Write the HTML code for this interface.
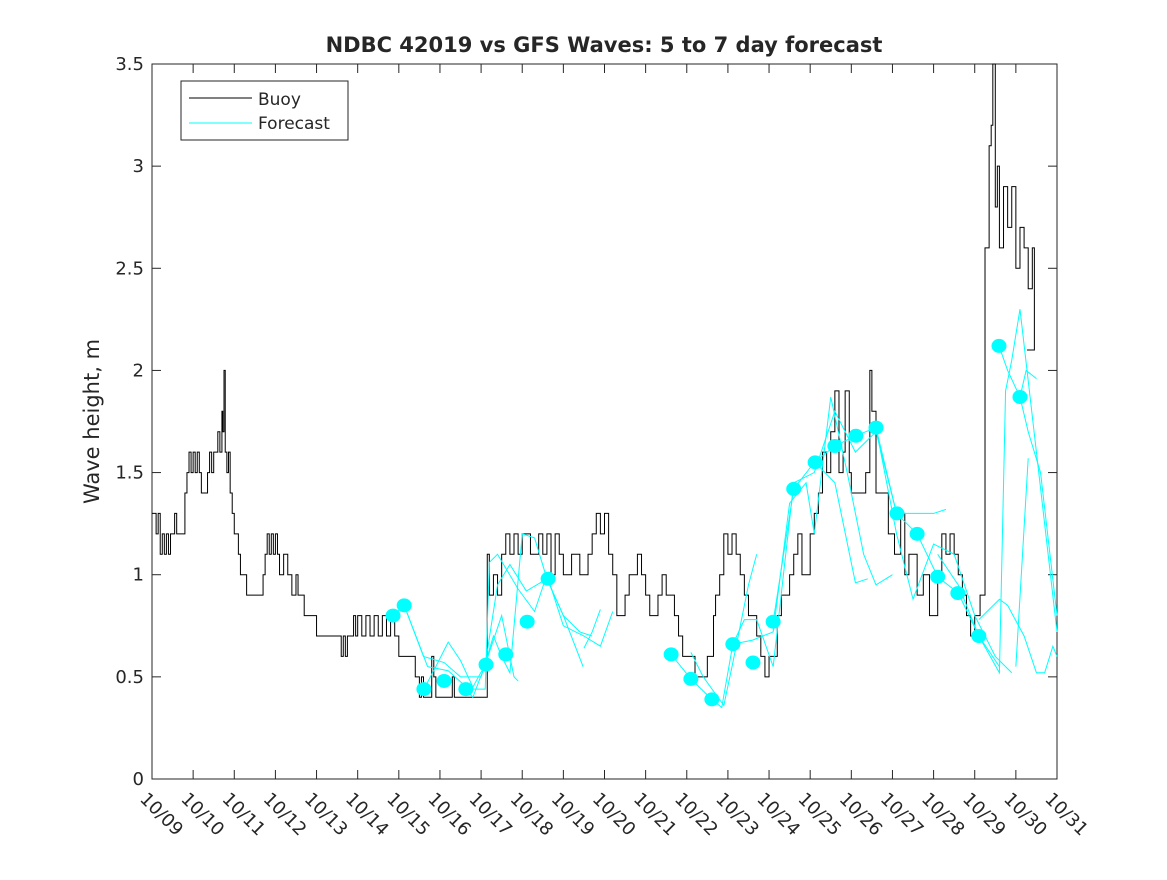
<!DOCTYPE html>
<html><head><meta charset="utf-8"><style>
body{margin:0;background:#fff}
svg text{font-family:"DejaVu Sans","Liberation Sans",sans-serif;fill:#262626}
</style></head><body>
<svg id="chart" width="1167" height="875" xmlns="http://www.w3.org/2000/svg">
<rect width="1167" height="875" fill="#fff"/>
<g id="plot"></g>
</svg>
<script>
const xTickLabels=["10/09","10/10","10/11","10/12","10/13","10/14","10/15","10/16","10/17","10/18","10/19","10/20","10/21","10/22","10/23","10/24","10/25","10/26","10/27","10/28","10/29","10/30","10/31"];
const yTicks=[0,0.5,1,1.5,2,2.5,3,3.5];
const yTickLabels=["0","0.5","1","1.5","2","2.5","3","3.5"];
const buoyDays=[0,0.1,0.15,0.2,0.25,0.3,0.35,0.4,0.45,0.5,0.55,0.6,0.65,0.8,0.85,0.9,0.95,1.0,1.05,1.1,1.15,1.2,1.35,1.4,1.45,1.5,1.55,1.6,1.65,1.7,1.72,1.75,1.78,1.82,1.86,1.9,1.95,2.0,2.1,2.15,2.2,2.3,2.7,2.75,2.8,2.85,2.9,2.95,3.0,3.05,3.1,3.2,3.3,3.4,3.5,3.55,3.6,3.7,3.8,4.0,4.1,4.6,4.65,4.7,4.75,4.8,4.9,4.95,5.0,5.1,5.2,5.3,5.4,5.5,5.6,5.7,5.8,5.9,6.0,6.3,6.4,6.5,6.55,6.6,6.8,6.85,6.9,7.0,7.3,7.35,7.4,8.1,8.15,8.2,8.3,8.4,8.5,8.6,8.7,8.8,8.9,9.0,9.2,9.4,9.5,9.6,9.7,9.8,9.9,10.0,10.2,10.4,10.6,10.7,10.8,10.9,11.0,11.1,11.2,11.3,11.5,11.6,11.8,11.9,12.0,12.1,12.3,12.4,12.5,12.7,12.8,12.9,13.2,13.5,13.65,13.7,13.8,13.9,14.0,14.1,14.2,14.3,14.4,14.5,14.7,14.8,14.9,15.0,15.2,15.3,15.5,15.6,15.7,15.8,16.0,16.1,16.2,16.3,16.4,16.5,16.6,16.7,16.8,16.85,16.95,17.0,17.35,17.45,17.5,17.6,17.9,18.05,18.2,18.3,18.4,18.6,18.75,18.9,19.1,19.2,19.3,19.4,19.5,19.6,19.7,19.8,19.9,20.0,20.13,20.25,20.35,20.4,20.44,20.5,20.55,20.6,20.7,20.8,20.9,21.0,21.1,21.2,21.3,21.4,21.45,21.27];
const buoyVals=[1.3,1.2,1.3,1.1,1.2,1.1,1.2,1.1,1.2,1.2,1.3,1.2,1.2,1.4,1.5,1.6,1.5,1.6,1.5,1.6,1.5,1.4,1.5,1.6,1.5,1.6,1.6,1.7,1.6,1.8,1.7,2.0,1.6,1.5,1.6,1.4,1.3,1.2,1.1,1.0,1.0,0.9,1.0,1.1,1.2,1.1,1.2,1.1,1.2,1.1,1.0,1.1,1.0,0.9,1.0,0.9,0.9,0.8,0.8,0.7,0.7,0.6,0.7,0.6,0.7,0.7,0.8,0.7,0.8,0.7,0.8,0.7,0.8,0.7,0.8,0.7,0.8,0.7,0.6,0.6,0.5,0.4,0.5,0.4,0.6,0.5,0.4,0.4,0.5,0.4,0.4,0.4,1.1,0.9,1.0,0.9,1.1,1.2,1.1,1.2,1.1,1.2,1.1,1.2,1.1,1.2,1.0,1.2,1.1,1.0,1.1,1.0,1.1,1.2,1.3,1.2,1.3,1.1,1.0,0.8,0.9,1.0,1.1,1.0,0.9,0.8,0.9,1.0,0.9,0.8,0.7,0.6,0.5,0.6,0.8,0.9,1.0,1.2,1.1,1.2,1.1,1.0,0.9,0.8,0.7,0.6,0.5,0.6,0.8,0.9,1.0,1.1,1.2,1.0,1.2,1.3,1.4,1.6,1.5,1.7,1.9,1.5,1.6,1.9,1.5,1.4,1.5,2.0,1.8,1.4,1.2,1.1,1.3,1.0,1.1,0.9,1.0,0.8,1.0,1.2,1.1,1.2,1.1,1.0,0.9,0.8,0.7,0.8,0.9,2.6,3.1,3.2,3.5,2.8,3.0,2.6,2.9,2.7,2.9,2.5,2.7,2.6,2.4,2.6,2.1,2.1];
const fcLines=[
 [[5.86,.80],[6.13,.85],[6.7,.55],[7.2,.53],[7.7,.44],[8.1,.44],[8.2,1.06],[8.4,1.1],[8.9,.93],[9.3,.82],[9.6,1.0],[10.0,.75],[10.5,.70],[10.9,.65],[11.2,.82]],
 [[6.13,.85],[6.6,.6],[7.1,.57],[7.5,.5],[8.0,.5],[8.3,.7],[8.5,.6],[8.7,.52],[9.0,1.2],[9.3,1.18],[9.6,.98],[10.0,.8],[10.4,.72],[10.7,.70]],
 [[6.61,.44],[6.9,.55],[7.2,.67],[7.5,.58],[7.8,.45],[8.1,.56],[8.5,.8],[8.8,.5],[8.9,.48]],
 [[7.63,.44],[7.8,.40],[8.1,.56],[8.4,.95],[8.7,1.05],[9.1,.92],[9.6,.98],[10.0,.8],[10.48,.55]],
 [[10.5,.64],[10.7,.72],[10.9,.83]],
 [[12.62,.61],[13.1,.49],[13.61,.39],[13.85,.35],[14.12,.66],[14.4,.78],[14.7,.78],[15.1,.55],[15.6,1.45],[16.1,1.5],[16.6,1.8],[17.1,1.6],[17.6,1.7],[18.1,1.3],[18.6,1.3],[19.0,1.3],[19.3,1.32]],
 [[13.1,.62],[13.4,.5],[13.9,.36],[14.1,.55],[14.5,.95],[14.7,1.1]],
 [[14.12,.66],[14.6,.68],[15.1,.72],[15.5,1.35],[15.9,1.45],[16.1,1.2],[16.5,1.87],[16.9,1.5],[17.3,1.1],[17.6,.95],[18.0,1.0]],
 [[15.1,.77],[15.6,1.42],[16.1,1.55],[16.6,1.63],[17.1,1.68],[17.6,1.72],[18.1,1.3],[18.6,1.2],[19.1,.99],[19.6,.91],[20.1,.7],[20.6,.55]],
 [[16.12,1.55],[16.6,1.45],[17.1,.96],[17.4,.98]],
 [[17.6,1.72],[18.1,1.2],[18.5,.88],[19.0,1.15],[19.5,1.1],[20.0,.8],[20.5,.6],[20.9,.52]],
 [[19.1,1.1],[19.6,.95],[20.1,.7],[20.6,.52],[20.75,1.9],[20.9,2.05],[21.1,2.3],[21.5,1.6],[22.0,.72]],
 [[20.59,2.12],[20.8,2.0],[21.1,1.87],[21.3,1.7],[21.6,1.5],[22.0,.8]],
 [[20.1,.78],[20.6,.88],[20.8,.85],[21.2,.7],[21.5,.52],[21.7,.52],[21.9,.65],[22.0,.6]],
 [[21.1,1.87],[21.25,2.0],[21.5,1.96]],
 [[21.0,.55],[21.3,1.57]]
];
const dotDays=[5.86,6.13,6.61,7.1,7.63,8.12,8.6,9.12,9.63,12.62,13.1,13.61,14.12,14.61,15.1,15.6,16.12,16.6,17.11,17.6,18.11,18.6,19.1,19.59,20.1,20.59,21.1];
const dotVals=[0.80,0.85,0.44,0.48,0.44,0.56,0.61,0.77,0.98,0.61,0.49,0.39,0.66,0.57,0.77,1.42,1.55,1.63,1.68,1.72,1.30,1.20,0.99,0.91,0.70,2.12,1.87];

const X0=152,X1=1057,Y0=779,Y1=64;
const xs=d=>X0+(X1-X0)*d/22;
const ys=v=>Y0-(Y0-Y1)*v/3.5;
const NS="http://www.w3.org/2000/svg";
const svg=document.getElementById('chart');
function mk(tag,attrs,parent){const e=document.createElementNS(NS,tag);for(const k in attrs)e.setAttribute(k,attrs[k]);(parent||svg).appendChild(e);return e;}

const box=mk('rect',{x:X0,y:Y1,width:X1-X0,height:Y0-Y1,fill:'none',stroke:'#262626','stroke-width':1});


xTickLabels.forEach((lab,i)=>{
  const x=xs(i);
  const t=mk('line',{x1:x,x2:x,y1:Y0,y2:Y0-9,stroke:'#262626'});
  
  
  const t2=mk('line',{x1:x,x2:x,y1:Y1,y2:Y1+9,stroke:'#262626'});
  
  
  const tx=mk('text',{x:0,y:0,'font-size':18,transform:`translate(${x-13},${Y0+21}) rotate(45)`});
  tx.textContent=lab;
  
  
});
yTicks.forEach((v,i)=>{
  const y=ys(v);
  const t=mk('line',{x1:X0,x2:X0+9,y1:y,y2:y,stroke:'#262626'});
  
  
  const t2=mk('line',{x1:X1,x2:X1-9,y1:y,y2:y,stroke:'#262626'});
  
  
  const tx=mk('text',{x:X0-8,y:y+6,'font-size':18,'text-anchor':'end'});
  tx.textContent=yTickLabels[i];
  
  
});
const yt=mk('text',{x:0,y:0,'font-size':21,'text-anchor':'middle',transform:`translate(99,${(Y0+Y1)/2}) rotate(-90)`});
yt.textContent='Wave height, m';


const title=mk('text',{x:604,y:52,'font-size':21,'font-weight':'bold','text-anchor':'middle',fill:'#000'});
title.textContent='NDBC 42019 vs GFS Waves: 5 to 7 day forecast';



let d='';
buoyDays.forEach((day,i)=>{
  const x=xs(day),y=ys(buoyVals[i]);
  if(i===0)d+=`M${x},${y}`;else d+=`H${x}V${y}`;
});
const bp=mk('path',{d,fill:'none',stroke:'#000','stroke-width':1});



fcLines.forEach(line=>{
  const p=mk('polyline',{points:line.map(q=>xs(q[0])+','+ys(q[1])).join(' '),fill:'none',stroke:'#00ffff','stroke-width':1});
  
  
});
dotDays.forEach((day,i)=>{
  const c=mk('ellipse',{cx:xs(day),cy:ys(dotVals[i]),rx:7.5,ry:7,fill:'#00ffff'});
  
  
});

const lg=mk('g',{});


mk('rect',{x:181,y:81,width:167,height:59,fill:'#fff',stroke:'#262626'},lg);
mk('line',{x1:189,x2:252,y1:98,y2:98,stroke:'#000'},lg);
const l1=mk('text',{x:258,y:105,'font-size':17},lg);l1.textContent='Buoy';


mk('line',{x1:189,x2:252,y1:123,y2:123,stroke:'#00ffff'},lg);
const l2=mk('text',{x:258,y:129,'font-size':17},lg);l2.textContent='Forecast';


</script>
</body></html>
